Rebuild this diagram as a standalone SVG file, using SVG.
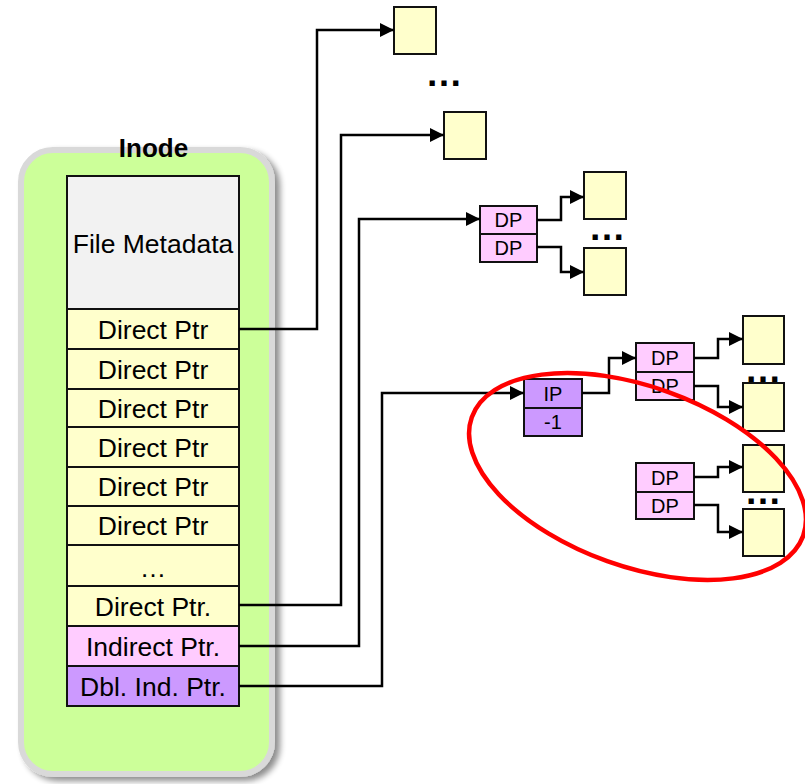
<svg xmlns="http://www.w3.org/2000/svg" width="805" height="784" viewBox="0 0 805 784">
  <defs>
    <marker id="arrow" markerUnits="userSpaceOnUse" markerWidth="15" markerHeight="15" refX="14" refY="7" orient="auto">
      <path d="M0,0 L14,7 L0,14 Z" fill="#000"/>
    </marker>
    <filter id="shadow" x="-10%" y="-10%" width="125%" height="120%">
      <feGaussianBlur in="SourceAlpha" stdDeviation="3"/>
      <feOffset dx="5" dy="4" result="b"/>
      <feComponentTransfer><feFuncA type="linear" slope="0.45"/></feComponentTransfer>
      <feMerge><feMergeNode/><feMergeNode in="SourceGraphic"/></feMerge>
    </filter>
  </defs>
  <style>
    text { font-family: "Liberation Sans", Arial, sans-serif; fill: #000; }
    .cell { stroke: #111; stroke-width: 2; }
    .row { font-size: 26.5px; text-anchor: middle; }
    .small { font-size: 20px; text-anchor: middle; }
    .blk { fill: #ffffcc; stroke: #111; stroke-width: 2; }
    .dp { fill: #ffccff; }
    .ip { fill: #cc99ff; }
    .meta { fill: #f2f2f2; }
    .yel { fill: #ffffcc; }
    .ind { fill: #ffccff; }
    .dbl { fill: #cc99ff; }
    .dots { font-size: 37px; font-weight: bold; text-anchor: middle; }
    .wire { fill: none; stroke: #000; stroke-width: 2.5; }
  </style>

  <!-- Inode container -->
  <g id="inode">
    <rect x="21" y="150" width="251" height="624" rx="32" ry="32" fill="#ccff99" stroke="#d9d9d9" stroke-width="6" filter="url(#shadow)"/>
    <text x="153.5" y="157" font-size="26px" font-weight="bold" text-anchor="middle">Inode</text>
    <rect class="cell meta" x="67" y="176" width="172" height="133"/>
    <text class="row" x="153" y="252.5">File Metadata</text>
    <rect class="cell yel" x="67" y="309" width="172" height="40"/>
    <text class="row" x="153" y="338.5">Direct Ptr</text>
    <rect class="cell yel" x="67" y="349" width="172" height="40"/>
    <text class="row" x="153" y="378.5">Direct Ptr</text>
    <rect class="cell yel" x="67" y="389" width="172" height="38"/>
    <text class="row" x="153" y="417.5">Direct Ptr</text>
    <rect class="cell yel" x="67" y="427" width="172" height="40"/>
    <text class="row" x="153" y="456.5">Direct Ptr</text>
    <rect class="cell yel" x="67" y="467" width="172" height="39"/>
    <text class="row" x="153" y="496">Direct Ptr</text>
    <rect class="cell yel" x="67" y="506" width="172" height="39"/>
    <text class="row" x="153" y="535">Direct Ptr</text>
    <rect class="cell yel" x="67" y="545" width="172" height="41"/>
    <text class="row" x="153" y="577">…</text>
    <rect class="cell yel" x="67" y="586" width="172" height="40"/>
    <text class="row" x="153" y="615.5">Direct Ptr.</text>
    <rect class="cell ind" x="67" y="626" width="172" height="40"/>
    <text class="row" x="153" y="655.5">Indirect Ptr.</text>
    <rect class="cell dbl" x="67" y="666" width="172" height="40"/>
    <text class="row" x="153" y="695.5">Dbl. Ind. Ptr.</text>
  </g>

  <!-- Data blocks -->
  <g id="block-a"><rect class="blk" x="394" y="7" width="42" height="47"/></g>
  <text class="dots" x="444" y="86">…</text>
  <g id="block-b"><rect class="blk" x="444" y="112" width="42" height="47"/></g>

  <!-- Single indirect block -->
  <g id="indirect-block">
    <rect class="cell dp" x="480" y="206" width="57" height="28"/>
    <text class="small" x="508.5" y="227">DP</text>
    <rect class="cell dp" x="480" y="234" width="57" height="28"/>
    <text class="small" x="508.5" y="255">DP</text>
  </g>
  <g id="block-c"><rect class="blk" x="584" y="172" width="42" height="47"/></g>
  <text class="dots" x="607" y="240">…</text>
  <g id="block-d"><rect class="blk" x="584" y="248" width="42" height="47"/></g>

  <!-- Double indirect block -->
  <g id="double-indirect-block">
    <rect class="cell ip" x="524" y="379" width="58" height="29"/>
    <text class="small" x="553" y="401">IP</text>
    <rect class="cell ip" x="524" y="408" width="58" height="28"/>
    <text class="small" x="553" y="429">-1</text>
  </g>

  <!-- Second-level indirect blocks -->
  <g id="indirect-block-1">
    <rect class="cell dp" x="636" y="343" width="58" height="29"/>
    <text class="small" x="665" y="365">DP</text>
    <rect class="cell dp" x="636" y="372" width="58" height="28"/>
    <text class="small" x="665" y="393">DP</text>
  </g>
  <g id="indirect-block-2">
    <rect class="cell dp" x="636" y="463" width="58" height="29"/>
    <text class="small" x="665" y="485">DP</text>
    <rect class="cell dp" x="636" y="492" width="58" height="27"/>
    <text class="small" x="665" y="513">DP</text>
  </g>
  <g id="block-e"><rect class="blk" x="743" y="316" width="41" height="48"/></g>
  <text class="dots" x="763" y="382">…</text>
  <g id="block-f"><rect class="blk" x="743" y="383" width="41" height="48"/></g>
  <g id="block-g"><rect class="blk" x="743" y="445" width="41" height="47"/></g>
  <text class="dots" x="763" y="504">…</text>
  <g id="block-h"><rect class="blk" x="743" y="509" width="41" height="47"/></g>

  <!-- Pointer connectors -->
  <g id="connectors">
    <path class="wire" d="M239,329 H317 V30 H394" marker-end="url(#arrow)"/>
    <path class="wire" d="M239,605 H341 V135 H444" marker-end="url(#arrow)"/>
    <path class="wire" d="M239,646 H359 V219 H480" marker-end="url(#arrow)"/>
    <path class="wire" d="M239,686 H382 V393 H524" marker-end="url(#arrow)"/>
    <path class="wire" d="M537,220 H561 V197 H584" marker-end="url(#arrow)"/>
    <path class="wire" d="M537,247 H561 V272 H584" marker-end="url(#arrow)"/>
    <path class="wire" d="M582,393 H609 V358 H636" marker-end="url(#arrow)"/>
    <path class="wire" d="M694,358 H718 V339 H743" marker-end="url(#arrow)"/>
    <path class="wire" d="M694,386 H718 V407 H743" marker-end="url(#arrow)"/>
    <path class="wire" d="M694,477 H718 V467 H743" marker-end="url(#arrow)"/>
    <path class="wire" d="M694,505 H718 V532 H743" marker-end="url(#arrow)"/>
  </g>

  <!-- Highlight around the double indirect structure -->
  <ellipse cx="637.5" cy="476.5" rx="176" ry="90" transform="rotate(19.7 637.5 476.5)" fill="none" stroke="#ff0000" stroke-width="4.5"/>
</svg>
